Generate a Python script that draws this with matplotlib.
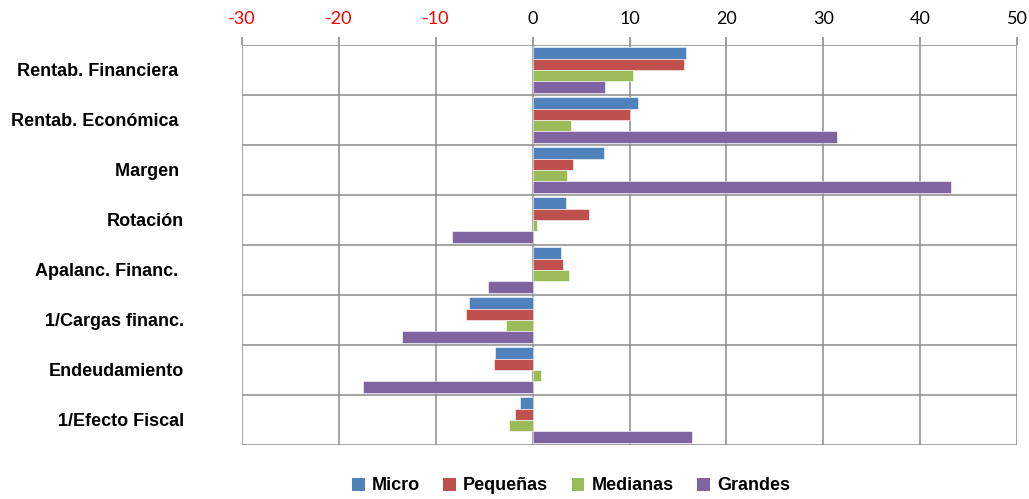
import numpy as np
import matplotlib
matplotlib.use('Agg')
import matplotlib.pyplot as plt
from matplotlib.patches import Patch

plt.rcParams['font.family'] = ['Lato', 'DejaVu Sans']
BOLD = ['Liberation Sans', 'DejaVu Sans']

categories = ['Rentab. Financiera ', 'Rentab. Económica ', 'Margen ', 'Rotación',
              'Apalanc. Financ. ', '1/Cargas financ.', 'Endeudamiento', '1/Efecto Fiscal']
series_names = ['Micro', 'Pequeñas', 'Medianas', 'Grandes']
micro    = [15.8, 10.9, 7.4, 3.4, 2.9, -6.6, -3.9, -1.3]
pequenas = [15.6, 10.1, 4.2, 5.8, 3.1, -6.9, -4.0, -1.8]
medianas = [10.4, 4.0, 3.5, 0.4, 3.8, -2.7, 0.9, -2.4]
grandes  = [7.5, 31.4, 43.2, -8.3, -4.6, -13.5, -17.5, 16.4]
colours  = ['#4F81BD', '#C0504D', '#9BBB59', '#8064A2']
x_ticks  = [-30, -20, -10, 0, 10, 20, 30, 40, 50]

fig = plt.figure(figsize=(10.29, 4.99), dpi=100)
fig.patch.set_facecolor('white')
ax = fig.add_axes([242/1029, 1 - 445/499, 775/1029, 400/499])

grid_c = '#8C8C8C'
y = np.arange(len(categories))
h = 0.228
offsets = np.array([-1.5, -0.5, 0.5, 1.5]) * h
for vals, off, c, name in zip([micro, pequenas, medianas, grandes], offsets, colours, series_names):
    ax.barh(y + off, vals, height=h, color=c, edgecolor='white', linewidth=0.4,
            label=name, zorder=3)

ax.set_xlim(-30, 50)
ax.set_ylim(len(categories) - 0.5, -0.5)
ax.set_xticks(x_ticks)
ax.set_xticklabels([str(t) for t in x_ticks])
ax.xaxis.tick_top()
ax.tick_params(axis='x', which='major', direction='out', length=6, width=1.2,
               color=grid_c, labelsize=13, pad=7)
for tk, t in zip(ax.xaxis.get_major_ticks(), x_ticks):
    tk.label2.set_color('red' if t < 0 else 'black')

ax.set_yticks(y)
ax.set_yticklabels(categories, fontsize=13, fontweight='bold', family=BOLD)
ax.tick_params(axis='y', which='major', length=0, pad=42)
ax.set_yticks(np.arange(-0.5, len(categories), 1), minor=True)
ax.tick_params(axis='y', which='minor', length=0)

ax.xaxis.grid(True, which='major', color=grid_c, linewidth=1.1, zorder=0)
ax.yaxis.grid(True, which='minor', color=grid_c, linewidth=1.1, zorder=0)
ax.set_axisbelow(True)
for s in ax.spines.values():
    s.set_visible(False)

handles = [Patch(facecolor=c, label=n) for c, n in zip(colours, series_names)]
fig.legend(handles=handles, loc='center', bbox_to_anchor=(571/1029, 1 - 486/499),
           ncol=4, frameon=False, prop={'weight': 'bold', 'size': 13, 'family': BOLD},
           handlelength=0.7, handleheight=0.7, handletextpad=0.4, columnspacing=1.3)

fig.savefig('out.png', dpi=100, facecolor='white')
plt.close(fig)
